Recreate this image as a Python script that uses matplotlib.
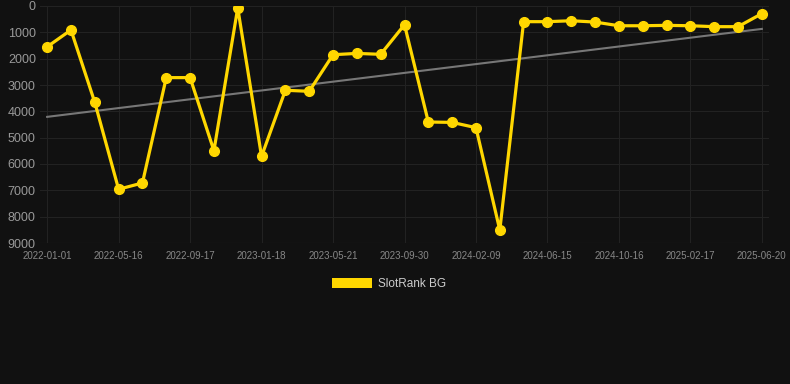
import matplotlib
matplotlib.use("Agg")
import matplotlib.pyplot as plt
from matplotlib.patches import Patch

tick_labels = ["2022-01-01", "2022-05-16", "2022-09-17", "2023-01-18", "2023-05-21",
               "2023-09-30", "2024-02-09", "2024-06-15", "2024-10-16", "2025-02-17",
               "2025-06-20"]
ranks = [1550, 910, 3660, 6960, 6720, 2720, 2720, 5495, 75, 5710,
         3200, 3240, 1850, 1800, 1835, 710, 4405, 4420, 4620, 8510,
         595, 595, 560, 610, 750, 750, 735, 750, 785, 785, 290]
trend = [4210, 870]
series_name = "SlotRank BG"

plt.rcParams['font.family'] = ['Liberation Sans', 'DejaVu Sans']
bg = "#111111"
fig = plt.figure(figsize=(7.9, 3.84), dpi=100, facecolor=bg)
ax = fig.add_axes([40/790, (384-243)/384, (769-40)/790, (243-6)/384], facecolor=bg)

x = list(range(len(ranks)))
ax.plot([0, len(ranks)-1], trend, color="#777777", lw=1.5, zorder=2)
ax.plot(x, ranks, color="#FFD700", lw=2.3, marker="o", ms=7, zorder=3)

ax.set_xlim(-0.3, len(ranks)-1+0.3)
ax.set_ylim(9000, 0)
ax.set_yticks(range(0, 9001, 1000))
ax.set_xticks(x[::3])
ax.set_xticklabels(tick_labels)
ax.tick_params(axis='y', colors="#999999", labelsize=9, length=0, pad=3)
ax.tick_params(axis='x', colors="#888888", labelsize=7, length=0, pad=6)
ax.grid(True, color="#222222", lw=0.8)
for s in ax.spines.values():
    s.set_visible(False)
ax.axhline(9000, color="#333333", lw=0.8)

fig.legend(handles=[Patch(facecolor="#FFD700", label=series_name)],
           loc="center", bbox_to_anchor=(389/790, 1-284/384), frameon=False,
           handlelength=3.4, handleheight=1.0, fontsize=8.5, labelcolor="#cccccc",
           handletextpad=0.5)

fig.savefig("out.png", dpi=100, facecolor=bg)
